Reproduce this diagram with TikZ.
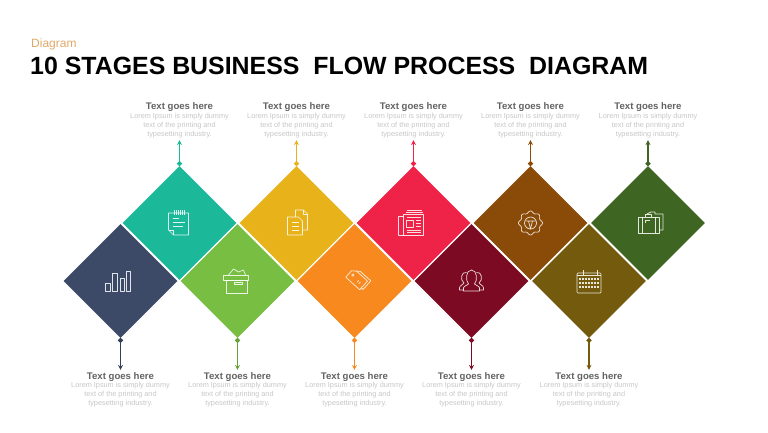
\documentclass[tikz,border=0pt]{standalone}
\usepackage{fontspec}
\setmainfont{Liberation Sans}
\usetikzlibrary{arrows.meta,positioning,shapes.geometric}
\definecolor{StageNavy}{HTML}{3C4A68}
\definecolor{StageTeal}{HTML}{1BB99A}
\definecolor{StageLime}{HTML}{78BE43}
\definecolor{StageAmber}{HTML}{E8B21A}
\definecolor{StageOrange}{HTML}{F7891E}
\definecolor{StageRed}{HTML}{EE2347}
\definecolor{StageMaroon}{HTML}{7C0A22}
\definecolor{StageBrown}{HTML}{8A4B08}
\definecolor{StageOlive}{HTML}{735A0C}
\definecolor{StageForest}{HTML}{3F6522}
\definecolor{HeadGray}{HTML}{626262}
\definecolor{BodyGray}{HTML}{C6C6C6}
\definecolor{KickerTan}{HTML}{DFA868}
\newcommand{\StageText}{\textcolor{HeadGray}{\fontsize{9.6}{11}\selectfont\textbf{Text goes here}}\\Lorem Ipsum is simply dummy\\text of the printing and\\typesetting industry.}
\newcommand{\IconBars}{
  \draw[icon] (-15,-10) rectangle (-10,-2);
  \draw[icon] (-8,-10) rectangle (-3,8);
  \draw[icon] (0,-10) rectangle (4,3);
  \draw[icon] (5.5,-10) rectangle (10,10);
}
\newcommand{\IconNote}{
  \draw[icon] (-11,10) -- (9,10) -- (9,-12) -- (-6,-12) -- (-11,-7) -- cycle;
  \draw[icon] (-6,-12) -- (-6,-7) -- (-11,-7);
  \foreach \x in {-5,-3,-1,1,3,5} \draw[icon] (\x,8) -- (\x,13);
  \draw[icon] (-7,5) -- (-1,5) (-7,1) -- (5,1) (-7,-3) -- (3,-3);
}
\newcommand{\IconDocs}{
  \draw[icon] (-1,6) -- (-1,13) -- (7,13) -- (11,9) -- (11,-7) -- (6,-7);
  \draw[icon] (7,13) -- (7,9) -- (11,9);
  \draw[icon] (-9,6) -- (2,6) -- (6,2) -- (6,-12) -- (-9,-12) -- cycle;
  \draw[icon] (-5,1) -- (2,1) (-5,-3) -- (2,-3) (-5,-7) -- (2,-7);
}
\newcommand{\IconBox}{
  \draw[icon] (-14,6) rectangle (11,1);
  \draw[icon] (-11,1) rectangle (10,-12);
  \draw[icon] (-3,-1) rectangle (5,-3);
  \draw[icon] (-9,6) -- (-4,12) -- (1,9) -- (6,11) -- (8,6);
}
\newcommand{\IconTag}{
  \begin{scope}[shift={(2.5,0)},rotate=-42,scale=.78]
    \draw[icon] (-14,-6) -- (-14,5) -- (-9,9) -- (10,9) -- (10,-6) -- cycle;
    \draw[icon] (-9,9) -- (-5,12) -- (13,12) -- (13,-3) -- (10,-3);
    \draw[icon] (-9,2) circle (1.6);
    \draw[icon] (1,2) -- (1,-1) (4,2) -- (4,-1);
  \end{scope}
}
\newcommand{\IconPaper}{
  \draw[icon] (-10,9) rectangle (10,-12);
  \draw[icon] (-10,7) -- (-15,7) -- (-15,-12) -- (-10,-12);
  \draw[icon] (-7,13) -- (8,13) (-8,11) -- (9,11);
  \draw[icon] (-7,6) -- (7,6);
  \draw[icon] (-7,3) rectangle (0,-4);
  \draw[icon] (2,3) -- (7,3) (2,0) -- (7,0) (2,-3) -- (7,-3) (-7,-7) -- (7,-7) (-7,-9.5) -- (7,-9.5);
}
\newcommand{\IconGroup}{
  \draw[icon] (-5,8.5) .. controls (-10,10) and (-12,1) .. (-7.5,-2) .. controls (-8,-4) and (-12,-4) .. (-12,-7) -- (-12,-9) -- (-8,-9);
  \draw[icon] (5,8.5) .. controls (10,10) and (12,1) .. (7.5,-2) .. controls (8,-4) and (12,-4) .. (12,-7) -- (12,-9) -- (8,-9);
  \draw[icon] (-8,-10) -- (-8,-7) .. controls (-8,-5) and (-4,-4.5) .. (-3,-3) .. controls (-6,0) and (-6,11) .. (0,11) .. controls (6,11) and (6,0) .. (3,-3) .. controls (4,-4.5) and (8,-5) .. (8,-7) -- (8,-10) -- cycle;
}
\newcommand{\IconGear}{
  \draw[icon] plot[domain=0:360,samples=121,smooth] (\x:{11+1*cos(8*\x)});
  \draw[icon] (0,0) circle (6);
  \draw[icon] (-5,2) -- (5,2) (-2,2) -- (0,-6) -- (2,2);
}
\newcommand{\IconCal}{
  \draw[icon,rounded corners=1pt] (-12,8) rectangle (12,-12);
  \draw[icon] (-12,5.5) -- (12,5.5);
  \draw[icon] (-6,6) -- (-6,11) (8,6) -- (8,11);
  \foreach \y in {2,-2,-6} \foreach \x in {-9,-6,...,9} \fill[white,opacity=.85] (\x-1,\y-1) rectangle (\x+1,\y+1);
}
\newcommand{\IconCases}{
  \draw[icon] (-10,6) rectangle (11,-10);
  \draw[icon] (-6,6) -- (-6,-10) (7,6) -- (7,-10);
  \draw[icon] (-3,6) -- (-3,9) -- (3,9) -- (3,6);
  \draw[icon] (-1,9) -- (3,11) -- (7,11) -- (7,9) -- (15,9) -- (15,-7) -- (11,-7);
  \draw[icon] (-3,3) -- (2,3) (-3,3) -- (-3,0);
}
\begin{document}
\begin{tikzpicture}[x=1pt,y=1pt,
    stagebox/.style={diamond,aspect=1,minimum width=113.8pt,minimum height=113.8pt,inner sep=0pt,outer sep=0pt},
    note/.style={align=center,inner sep=0pt,text=BodyGray,font=\fontsize{7.3}{8.9}\selectfont},
    conn/.style={{Circle[length=5pt]}-{Stealth[length=5pt,width=5pt]},line width=1.5pt,shorten >=2pt},
    icon/.style={draw=white,draw opacity=.85,line width=.7pt,line join=round}
  ]
    \useasboundingbox (0,0) rectangle (768,-432);
    \node[anchor=base west,inner sep=0pt,text=KickerTan,font=\fontsize{12}{14}\selectfont] (kicker) at (31,-47) {Diagram};
    \node[anchor=base west,inner sep=0pt,font=\fontsize{24.9}{28}\selectfont\bfseries] (title) at (30,-74) {10 STAGES BUSINESS\ \ FLOW PROCESS\ \ DIAGRAM};
    % lower row
    \node[stagebox,fill=StageNavy] (d1) at (120.5,-281) {};
    \node[stagebox,fill=StageLime] (d3) at (237.5,-281) {};
    \node[stagebox,fill=StageOrange] (d5) at (354.5,-281) {};
    \node[stagebox,fill=StageMaroon] (d7) at (471.5,-281) {};
    \node[stagebox,fill=StageOlive] (d9) at (589,-281) {};
    % upper row
    \node[stagebox,fill=StageTeal] (d2) at (179.5,-223) {};
    \node[stagebox,fill=StageAmber] (d4) at (296.5,-223) {};
    \node[stagebox,fill=StageRed] (d6) at (413.5,-223) {};
    \node[stagebox,fill=StageBrown] (d8) at (530.5,-223) {};
    \node[stagebox,fill=StageForest] (d10) at (648,-223) {};
    % labels
    \node[note,below=34pt of d1] (t1) {\StageText};
    \node[note,above=28pt of d2] (t2) {\StageText};
    \node[note,below=34pt of d3] (t3) {\StageText};
    \node[note,above=28pt of d4] (t4) {\StageText};
    \node[note,below=34pt of d5] (t5) {\StageText};
    \node[note,above=28pt of d6] (t6) {\StageText};
    \node[note,below=34pt of d7] (t7) {\StageText};
    \node[note,above=28pt of d8] (t8) {\StageText};
    \node[note,below=34pt of d9] (t9) {\StageText};
    \node[note,above=28pt of d10] (t10) {\StageText};
    % connectors
    \draw[conn,StageNavy!85!black] (d1.south) -- (t1.north);
    \draw[conn,StageTeal] (d2.north) -- (t2.south);
    \draw[conn,StageLime!85!black] (d3.south) -- (t3.north);
    \draw[conn,StageAmber] (d4.north) -- (t4.south);
    \draw[conn,StageOrange] (d5.south) -- (t5.north);
    \draw[conn,StageRed] (d6.north) -- (t6.south);
    \draw[conn,StageMaroon] (d7.south) -- (t7.north);
    \draw[conn,StageBrown] (d8.north) -- (t8.south);
    \draw[conn,StageOlive] (d9.south) -- (t9.north);
    \draw[conn,StageForest] (d10.north) -- (t10.south);
    % icons
    \begin{scope}[shift={(d1.center)}] \IconBars \end{scope}
    \begin{scope}[shift={(d2.center)}] \IconNote \end{scope}
    \begin{scope}[shift={(d3.center)}] \IconBox \end{scope}
    \begin{scope}[shift={(d4.center)}] \IconDocs \end{scope}
    \begin{scope}[shift={(d5.center)}] \IconTag \end{scope}
    \begin{scope}[shift={(d6.center)}] \IconPaper \end{scope}
    \begin{scope}[shift={(d7.center)}] \IconGroup \end{scope}
    \begin{scope}[shift={(d8.center)}] \IconGear \end{scope}
    \begin{scope}[shift={(d9.center)}] \IconCal \end{scope}
    \begin{scope}[shift={(d10.center)}] \IconCases \end{scope}
  \end{tikzpicture}
\end{document}
